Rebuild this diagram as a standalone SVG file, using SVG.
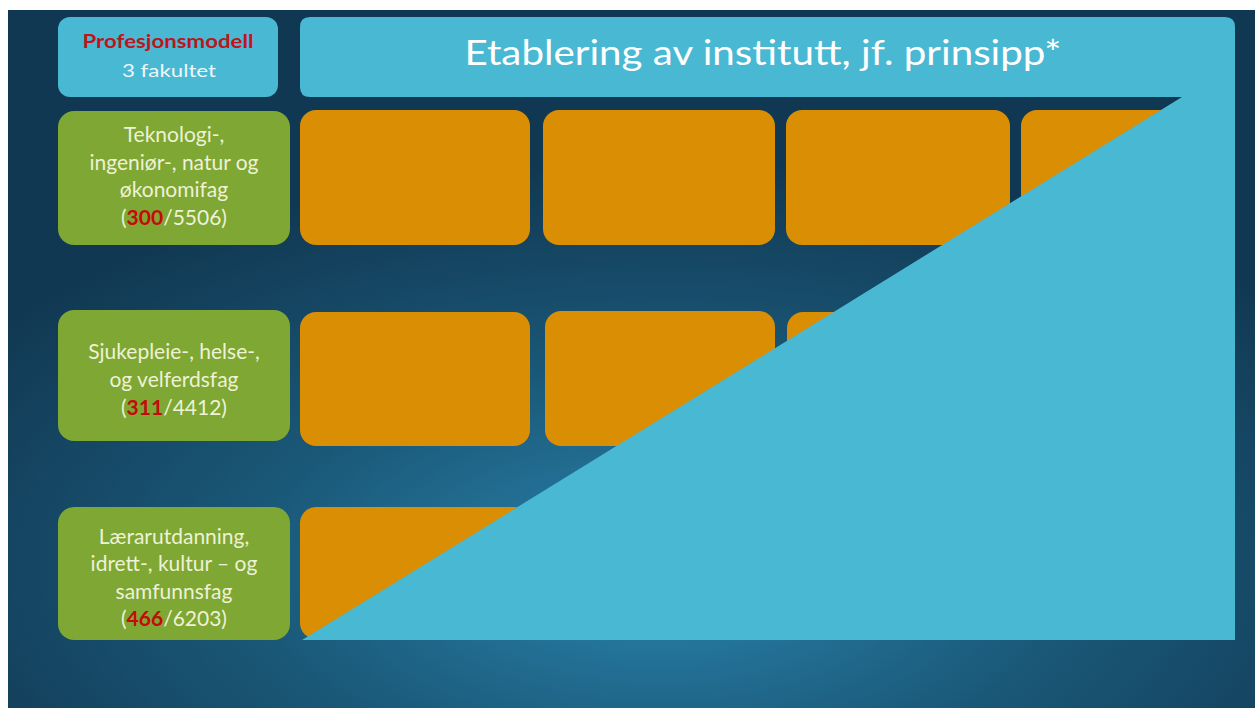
<svg xmlns="http://www.w3.org/2000/svg" width="1255" height="708" viewBox="0 0 1255 708">
<style>
.gt{font-family:Lato,"Open Sans","Liberation Sans",sans-serif;font-size:21px;fill:#eef2d6;text-anchor:middle}
.num{fill:#c40a0a;font-weight:bold}
.org{fill:#d98e04}
.grn{fill:#7ea733}
</style>
<defs>
<radialGradient id="bg" cx="660" cy="760" r="820" gradientUnits="userSpaceOnUse" gradientTransform="translate(0,380) scale(1,0.5) translate(0,-380)">
<stop offset="0" stop-color="#2a84ad"/>
<stop offset="0.5" stop-color="#1a5878"/>
<stop offset="1" stop-color="#113852"/>
</radialGradient>
</defs>
<rect x="0" y="0" width="1255" height="708" fill="#ffffff"/>
<rect x="8" y="10" width="1247" height="698" fill="url(#bg)"/>
<g id="orange-boxes">
<rect class="org" x="300" y="110" width="230" height="135" rx="16"/>
<rect class="org" x="543" y="110" width="232" height="135" rx="16"/>
<rect class="org" x="786" y="110" width="224" height="135" rx="16"/>
<rect class="org" x="1021" y="110" width="210" height="135" rx="16"/>
<rect class="org" x="300" y="312" width="230" height="134" rx="16"/>
<rect class="org" x="545" y="311" width="230" height="135" rx="16"/>
<rect class="org" x="787" y="312" width="224" height="134" rx="16"/>
<rect class="org" x="300" y="507" width="230" height="132" rx="16"/>
</g>
<g id="title">
<path d="M310,17 H1225 Q1235,17 1235,27 V640 H302 L1182,97 H310 Q300,97 300,87 V27 Q300,17 310,17 Z" fill="#49b8d3"/>
<text x="763" y="65" font-family="Lato,'Open Sans','Liberation Sans',sans-serif" font-size="34" fill="#ffffff" text-anchor="middle" textLength="597" lengthAdjust="spacingAndGlyphs">Etablering av institutt, jf. prinsipp*</text>
</g>
<g id="header">
<rect x="58" y="17" width="220" height="80" rx="12" fill="#49b8d3"/>
<text x="168" y="48" font-family="Lato,'Open Sans','Liberation Sans',sans-serif" font-size="19" font-weight="bold" fill="#c0141c" text-anchor="middle" textLength="171" lengthAdjust="spacingAndGlyphs">Profesjonsmodell</text>
<text x="169" y="77" font-family="Lato,'Open Sans','Liberation Sans',sans-serif" font-size="18" fill="#eef6f8" text-anchor="middle" textLength="94" lengthAdjust="spacingAndGlyphs">3 fakultet</text>
</g>
<g id="fak1">
<rect class="grn" x="58" y="111" width="232" height="134" rx="16"/>
<text class="gt" x="174" y="142">Teknologi-,</text>
<text class="gt" x="174" y="170">ingeniør-, natur og</text>
<text class="gt" x="174" y="197">økonomifag</text>
<text class="gt" x="174" y="225">(<tspan class="num">300</tspan>/5506)</text>
</g>
<g id="fak2">
<rect class="grn" x="58" y="310" width="232" height="131" rx="16"/>
<text class="gt" x="174" y="359">Sjukepleie-, helse-,</text>
<text class="gt" x="174" y="387">og velferdsfag</text>
<text class="gt" x="174" y="415">(<tspan class="num">311</tspan>/4412)</text>
</g>
<g id="fak3">
<rect class="grn" x="58" y="507" width="232" height="133" rx="16"/>
<text class="gt" x="174" y="544">Lærarutdanning,</text>
<text class="gt" x="174" y="571">idrett-, kultur – og</text>
<text class="gt" x="174" y="599">samfunnsfag</text>
<text class="gt" x="174" y="626">(<tspan class="num">466</tspan>/6203)</text>
</g>
<g id="connectors"/>
</svg>
